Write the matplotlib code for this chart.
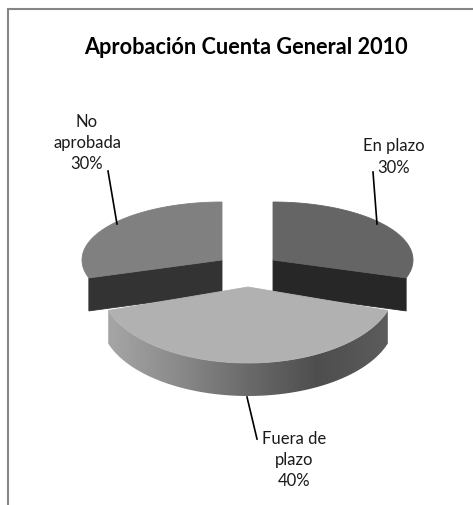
import numpy as np
import matplotlib
matplotlib.use("Agg")
import matplotlib.pyplot as plt
from matplotlib.patches import Polygon

# chart data
title = "Aprobación Cuenta General 2010"
categories = ["En plazo", "Fuera de\nplazo", "No\naprobada"]
shares = [30, 40, 30]

plt.rcParams['font.family'] = ['Lato', 'DejaVu Sans']

# figure in pixel coordinates, y going down
fig = plt.figure(figsize=(4.73, 5.06), dpi=100)
ax = fig.add_axes([0, 0, 1, 1])
ax.set_xlim(0, 473)
ax.set_ylim(506, 0)
ax.axis("off")

# outer frame (no right or bottom side in the picture)
ax.plot([8, 8, 473], [506, 10, 10], color="#868686", lw=1.5, solid_joinstyle="miter")

ax.text(246, 47, title, ha="center", va="center", fontsize=15.6, fontweight="bold", color="#000000")

# slice angles, clockwise from 12 o'clock
edges = np.cumsum([0] + shares) / sum(shares) * 2 * np.pi


def arc(cx, cy, rx, ry, a0, a1, n=80):
    t = np.linspace(a0, a1, n)
    return np.column_stack([cx + rx * np.sin(t), cy - ry * np.cos(t)])


def slice_3d(cx, cy, rx, ry, depth, a0, a1, top_col, cut_col):
    # flat cut faces behind the top of the slice
    for a in (a0, a1):
        p = arc(cx, cy, rx, ry, a, a, 1)[0]
        face = [(cx, cy), p, (p[0], p[1] + depth), (cx, cy + depth)]
        # only the cut that faces the viewer shows
        if np.cos(a) < 0:
            ax.add_patch(Polygon(face, closed=True, fc=cut_col, ec=cut_col, lw=0.6, zorder=2))
    pts = np.vstack([[(cx, cy)], arc(cx, cy, rx, ry, a0, a1)])
    ax.add_patch(Polygon(pts, closed=True, fc=top_col, ec=top_col, lw=0.6, zorder=3))


# en plazo, top right
slice_3d(273, 261, 140, 58, 33, edges[0], edges[1], "#656565", "#272727")
# no aprobada, top left
slice_3d(222, 261, 140, 58, 33, edges[2], edges[3], "#808080", "#333333")

# fuera de plazo, front slice with shaded rim
cx, cy, rx, ry, depth = 248, 288, 147, 76, 33
rim = arc(cx, cy, rx, ry, edges[1], edges[2])
rim_poly = np.vstack([rim, rim[::-1] + [0, depth]])
shade = np.linspace(0, 1, 256).reshape(1, -1)
img = ax.imshow(shade, cmap=matplotlib.colors.LinearSegmentedColormap.from_list(
    "rim", ["#a6a6a6", "#8a8a8a", "#6a6a6a", "#4e4e4e", "#5c5c5c"]),
    extent=[rim[:, 0].min(), rim[:, 0].max(), 410, 300], aspect="auto", zorder=4)
clip = Polygon(rim_poly, closed=True, transform=ax.transData, fc="none", ec="none")
ax.add_patch(clip)
img.set_clip_path(clip)
ax.set_xlim(0, 473)
ax.set_ylim(506, 0)
top = np.vstack([[(cx, cy)], rim])
ax.add_patch(Polygon(top, closed=True, fc="#b1b1b1", ec="#b1b1b1", lw=0.6, zorder=5))

# leader lines and labels
ax.plot([373, 377], [173, 225], color="black", lw=1.2, zorder=6)
ax.plot([247, 257], [398, 440], color="black", lw=1.2, zorder=6)
ax.plot([108, 117], [172, 225], color="black", lw=1.2, zorder=6)

label_xy = [(394, 157), (294, 460), (87, 143)]
for name, share, (x, y) in zip(categories, shares, label_xy):
    ax.text(x, y, f"{name}\n{share}%", ha="center", va="center", fontsize=12,
            color="#1a1a1a", linespacing=1.4)

fig.savefig("out.png", dpi=100)
